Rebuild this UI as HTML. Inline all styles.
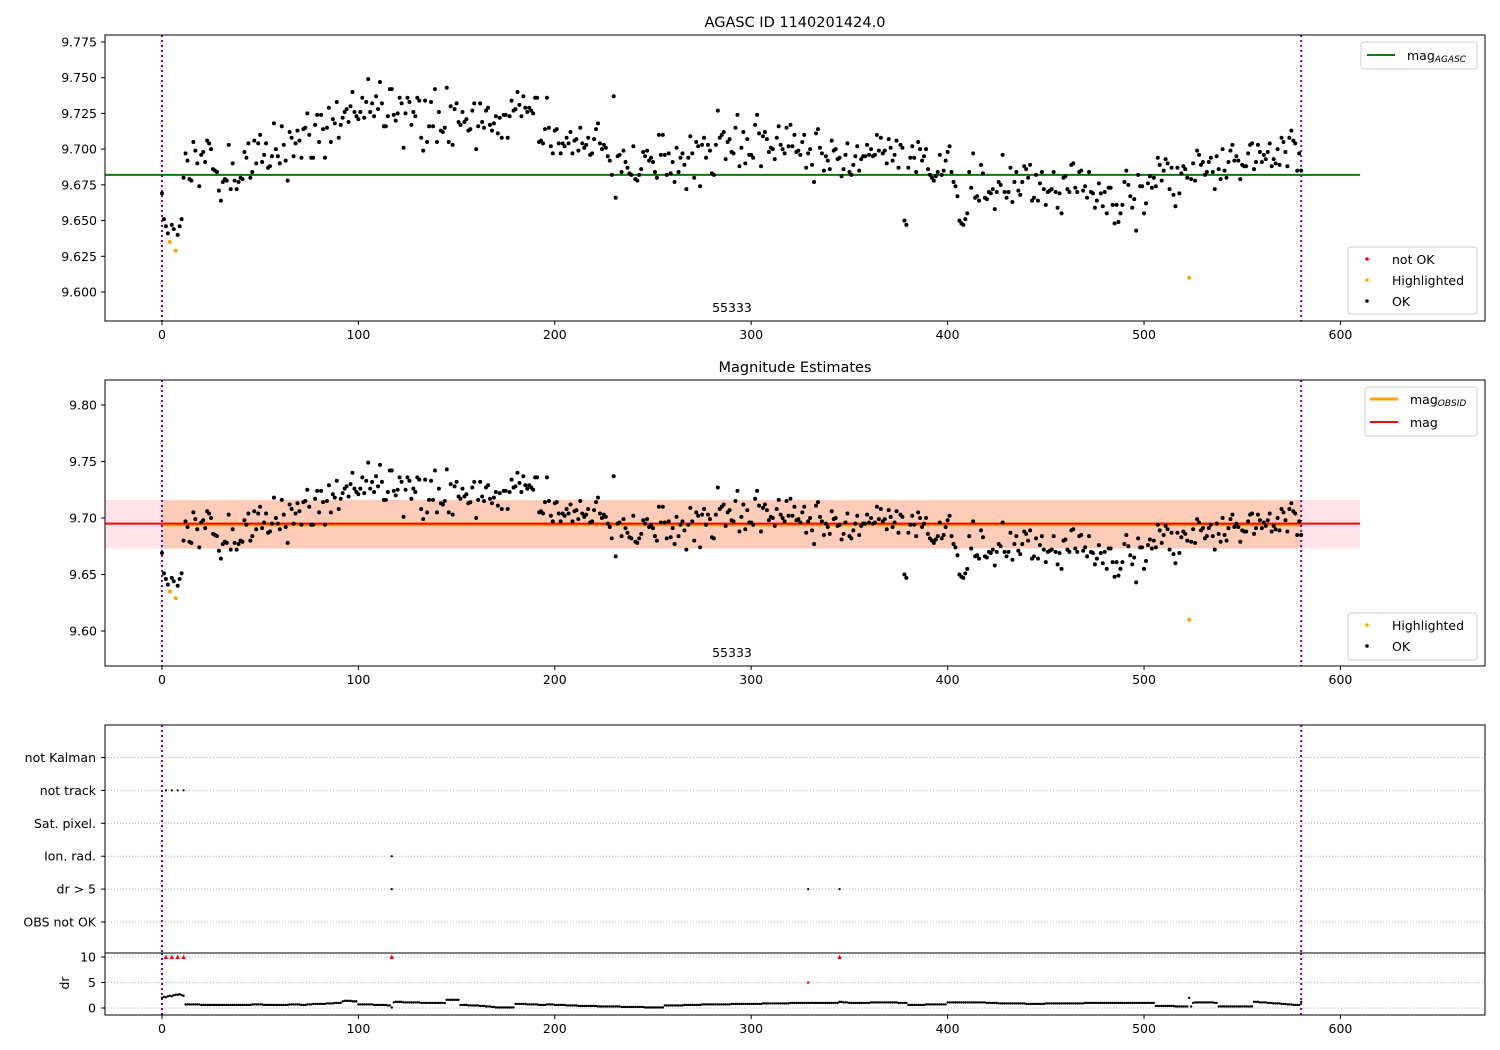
<!DOCTYPE html>
<html><head><meta charset="utf-8">
<style>
body{margin:0;background:#fff;font-family:"DejaVu Sans","Liberation Sans",sans-serif;}
svg{display:block}
text{font-family:"DejaVu Sans","Liberation Sans",sans-serif;}
</style></head>
<body>
<svg id="chart" width="1500" height="1050" xmlns="http://www.w3.org/2000/svg">
<rect width="1500" height="1050" fill="#fff"/>
</svg>
<script>
// magnitude offsets: mag = 9.6 + v/1000, index = x
const magVals = [
69,51,46,41,35,47,44,29,40,46,51,80,97,92,79,78,105,99,90,74,
96,98,91,106,104,100,86,85,84,71,64,77,79,78,103,72,90,78,72,77,
80,79,98,94,104,80,84,106,90,104,110,91,96,104,87,88,95,118,100,95,
90,116,103,92,78,112,108,95,104,113,106,94,114,115,125,110,94,94,117,124,
105,124,114,94,115,129,105,121,118,133,108,117,122,126,128,119,130,140,126,123,
121,126,136,122,133,149,126,132,123,137,128,147,132,116,116,123,142,142,124,120,
125,136,132,101,125,136,133,117,126,123,136,134,108,99,134,105,116,133,116,142,
105,126,113,112,115,143,105,130,103,128,132,119,117,126,119,121,113,114,127,132,
100,116,132,119,115,127,129,117,113,118,123,111,122,108,124,124,108,123,134,127,
128,140,131,123,137,129,126,129,127,125,136,136,105,106,104,114,136,115,102,97,
113,114,104,97,104,102,108,104,112,97,106,107,99,115,104,101,103,108,96,97,
107,114,118,104,100,103,101,95,92,82,137,66,95,96,84,99,91,87,83,82,
102,79,78,82,86,98,95,99,92,94,91,84,80,110,96,110,96,82,97,83,
91,77,101,84,94,97,89,72,94,109,97,80,105,102,74,103,108,94,103,99,
83,82,103,127,108,110,112,93,105,107,98,97,115,124,88,101,112,90,107,96,
96,94,117,124,111,88,109,112,107,98,101,100,93,108,116,103,100,97,115,102,
117,102,110,98,99,96,105,110,87,97,100,89,77,111,114,101,97,85,95,92,
86,106,99,100,93,94,81,86,96,104,84,82,89,95,102,85,93,95,95,103,
96,100,95,96,110,99,108,97,99,90,107,101,92,96,106,87,103,101,50,47,
87,94,102,94,84,105,100,92,95,100,86,82,80,78,81,84,96,82,85,92,
98,102,84,77,74,67,50,48,47,51,55,84,73,97,66,67,64,89,83,66,
65,70,69,72,58,70,77,75,96,70,66,70,87,63,77,84,71,68,77,88,
86,80,89,64,66,82,64,76,84,72,61,70,71,72,84,70,59,69,55,80,
81,72,70,89,90,73,70,84,85,71,74,66,84,70,69,59,64,76,69,60,
70,55,73,73,61,48,61,49,55,61,77,85,75,67,59,65,43,82,74,74,
55,62,76,81,73,80,74,94,89,78,85,93,90,72,87,68,60,87,69,83,
88,86,80,10,79,90,78,99,96,89,91,82,84,91,94,84,72,95,86,79,
100,85,80,91,99,103,92,95,92,79,89,88,88,97,103,104,86,91,103,98,
91,96,93,98,104,88,93,90,100,89,108,105,98,88,108,113,106,104,85,97,85];
const highlightIdx = [4,7,523];
// dr in tenths
const drVals = [
20,22,21,23,24,23,25,26,26,27,25,24,7,7,7,7,7,7,7,7,
6,6,6,6,6,6,6,6,6,6,6,6,6,6,6,6,6,6,6,6,
6,6,6,6,6,6,7,7,7,7,7,7,6,6,6,6,6,6,6,6,
6,6,6,6,6,7,7,7,7,7,7,6,6,6,7,7,7,8,8,8,
8,8,8,8,9,9,9,9,10,10,10,10,13,14,14,14,14,13,13,13,
7,7,7,7,7,7,7,7,6,6,6,6,6,6,6,5,5,1,11,12,
12,12,12,11,11,11,11,11,11,11,11,11,10,10,10,10,10,10,10,10,
10,10,10,10,10,16,16,16,16,16,16,16,6,6,6,6,5,5,5,5,
5,5,4,4,4,3,3,3,2,2,1,1,1,1,1,1,1,1,1,1,
8,8,8,8,8,8,7,7,7,7,7,7,6,6,6,6,7,7,7,7,
6,6,6,6,6,6,5,5,5,5,5,5,4,4,4,4,4,4,4,4,
4,4,3,3,3,3,3,3,3,3,3,3,3,3,2,2,2,2,2,2,
2,2,2,2,2,2,1,1,1,1,1,1,1,1,1,1,5,5,5,5,
5,5,5,5,5,5,6,6,6,6,6,6,6,6,6,7,7,7,7,7,
7,7,7,7,7,7,7,7,7,7,8,8,8,8,8,8,8,8,8,8,
8,8,8,8,8,8,9,9,9,9,9,9,9,9,9,9,9,9,9,9,
10,10,10,10,10,10,10,10,10,10,10,10,10,10,10,10,10,10,10,10,
10,10,10,10,10,12,12,11,11,11,10,10,10,10,10,10,10,10,10,10,
10,11,11,11,11,11,11,11,11,11,11,11,11,11,11,10,10,10,10,10,
6,6,6,6,6,6,6,6,6,7,7,7,7,7,7,7,7,7,7,7,
11,11,11,11,11,11,11,11,11,11,11,11,11,11,11,11,11,11,11,11,
10,10,10,10,10,10,9,9,9,9,9,9,9,9,9,9,9,9,9,9,
8,8,8,8,8,8,8,8,8,8,9,9,9,9,9,9,9,9,9,9,
9,9,9,9,9,9,9,9,9,9,10,10,10,10,10,10,10,10,10,10,
10,10,10,10,10,10,10,10,10,10,10,10,10,10,10,10,10,10,10,10,
10,10,10,10,10,10,4,4,4,4,4,4,4,4,4,4,3,3,3,3,
3,3,3,20,3,10,11,11,11,11,11,11,11,11,11,11,10,10,3,3,
3,3,3,3,3,3,3,3,3,3,3,3,3,3,3,3,12,12,12,11,
11,11,11,10,10,10,9,9,9,9,8,8,8,7,7,7,6,6,6,6,12];
const drHighIdx = [2,5,8,11,117,345];
const drMidIdx = [329];
const drMidVal = [5];
const notTrackIdx = [2,5,8,11];
const ionRadIdx = [117];
const drGt5Idx = [117,329,345];
const flagCats = ["OBS not OK","dr > 5","Ion. rad.","Sat. pixel.","not track","not Kalman"];
const xTicks = [0,100,200,300,400,500,600];
const y1Ticks = [9.600,9.625,9.650,9.675,9.700,9.725,9.750,9.775];
const y2Ticks = [9.60,9.65,9.70,9.75,9.80];
const drTicks = [0,5,10];
const magAgasc = 9.682, magObsid = 9.694, magMean = 9.695, bandLo = 9.673, bandHi = 9.716;
const obsStart = 0, obsEnd = 580, lineEnd = 610, lineStart = -29;

const NS="http://www.w3.org/2000/svg", svg=document.getElementById('chart');
function mk(tag,attrs,parent){const e=document.createElementNS(NS,tag);for(const k in attrs)e.setAttribute(k,attrs[k]);(parent||svg).appendChild(e);return e;}
const X0=105,X1=1485,XMIN=-29.0,XMAX=673.6;
const xs=v=>X0+(v-XMIN)/(XMAX-XMIN)*(X1-X0);
function lin(d0,d1,p0,p1){return v=>p0+(v-d0)/(d1-d0)*(p1-p0);}
const y1=lin(9.600,9.775,292,42), y2=lin(9.60,9.80,631,405);
const yf=lin(0,5,922,757.5), yd=lin(0,10,1008,957);

function txt(x,y,s,size,anchor,parent){const t=mk('text',{x:x,y:y,'font-size':size||12,'text-anchor':anchor||'middle',fill:'#000'},parent);t.textContent=s;return t;}
function xAxis(yb,g){xTicks.forEach(t=>{mk('line',{x1:xs(t),x2:xs(t),y1:yb,y2:yb+4,stroke:'#000'},g);const l=txt(xs(t),yb+18,String(t),12.5,'middle',g);});}
function vlines(top,bot,g){[obsStart,obsEnd].forEach(v=>{const l=mk('line',{x1:xs(v),x2:xs(v),y1:top,y2:bot,stroke:'purple','stroke-width':2,'stroke-dasharray':'2,3'},g);});}
function dots(g,yfn,color,r){magVals.forEach((v,i)=>{const c=mk('circle',{cx:xs(i),cy:yfn(9.6+v/1000),r:r,fill:highlightIdx.includes(i)?'orange':color},g);});}
function legendBox(x,y,w,h,g){mk('rect',{x:x,y:y,width:w,height:h,rx:3,fill:'#fff','fill-opacity':0.8,stroke:'#ccc'},g);}

// ---------- panel 1
const g1=mk('g',{});
let t1=txt(795,27,'AGASC ID 1140201424.0',14.5,'middle',g1);
const l1=mk('line',{x1:xs(lineStart),x2:xs(lineEnd),y1:y1(magAgasc),y2:y1(magAgasc),stroke:'green','stroke-width':2},g1);
vlines(35,321,g1);dots(g1,y1,'#000',2);
mk('rect',{x:105,y:35,width:1380,height:286,fill:'none',stroke:'#000'},g1);
y1Ticks.forEach(t=>{mk('line',{x1:101,x2:105,y1:y1(t),y2:y1(t),stroke:'#000'},g1);const l=txt(97,y1(t)+4.5,t.toFixed(3),12.5,'end',g1);});
xAxis(321,g1);
txt(732,312,'55333',12.5,'middle',g1);
const lg1=mk('g',{});
legendBox(1361,42,116,27,lg1);mk('line',{x1:1367,x2:1395,y1:55,y2:55,stroke:'green','stroke-width':2},lg1);
let tt=txt(1407,60,'mag',12.5,'start',lg1);const sb=mk('tspan',{'font-size':9,'font-style':'italic',dy:2},tt);sb.textContent='AGASC';
const lg2=mk('g',{});
legendBox(1348,247,129,67,lg2);
[['not OK','red',259],['Highlighted','orange',280],['OK','#000',301]].forEach(e=>{mk('circle',{cx:1367,cy:e[2],r:1.8,fill:e[1]},lg2);txt(1392,e[2]+5,e[0],12.5,'start',lg2);});

// ---------- panel 2
const g2=mk('g',{});
let t2=txt(795,372,'Magnitude Estimates',14.5,'middle',g2);
const b1=mk('rect',{x:xs(lineStart),y:y2(bandHi),width:xs(lineEnd)-xs(lineStart),height:y2(bandLo)-y2(bandHi),fill:'#ffc0cb','fill-opacity':0.45},g2);
const b2=mk('rect',{x:xs(obsStart),y:y2(bandHi),width:xs(obsEnd)-xs(obsStart),height:y2(bandLo)-y2(bandHi),fill:'#ffa060','fill-opacity':0.35},g2);
const ol=mk('line',{x1:xs(obsStart),x2:xs(obsEnd),y1:y2(magObsid),y2:y2(magObsid),stroke:'orange','stroke-width':3},g2);
const rl=mk('line',{x1:xs(lineStart),x2:xs(lineEnd),y1:y2(magMean),y2:y2(magMean),stroke:'red','stroke-width':2},g2);
vlines(380,666,g2);dots(g2,y2,'#000',2);
mk('rect',{x:105,y:380,width:1380,height:286,fill:'none',stroke:'#000'},g2);
y2Ticks.forEach(t=>{mk('line',{x1:101,x2:105,y1:y2(t),y2:y2(t),stroke:'#000'},g2);const l=txt(97,y2(t)+4.5,t.toFixed(2),12.5,'end',g2);});
xAxis(666,g2);
txt(732,657,'55333',12.5,'middle',g2);
const lg3=mk('g',{});
legendBox(1365,387,112,49,lg3);
mk('line',{x1:1370,x2:1398,y1:399,y2:399,stroke:'orange','stroke-width':3},lg3);
let t3=txt(1410,404,'mag',12.5,'start',lg3);const sb2=mk('tspan',{'font-size':9,'font-style':'italic',dy:2},t3);sb2.textContent='OBSID';
mk('line',{x1:1370,x2:1398,y1:422,y2:422,stroke:'red','stroke-width':2},lg3);txt(1410,427,'mag',12.5,'start',lg3);
const lg4=mk('g',{});
legendBox(1348,613,129,47,lg4);
[['Highlighted','orange',625],['OK','#000',646]].forEach(e=>{mk('circle',{cx:1367,cy:e[2],r:1.8,fill:e[1]},lg4);txt(1392,e[2]+5,e[0],12.5,'start',lg4);});

// ---------- panel 3 flags
const g3=mk('g',{});
flagCats.forEach((c,i)=>{mk('line',{x1:105,x2:1485,y1:yf(i),y2:yf(i),stroke:'#b0b0b0','stroke-dasharray':'1,2'},g3);mk('line',{x1:101,x2:105,y1:yf(i),y2:yf(i),stroke:'#000'},g3);const l=txt(96,yf(i)+4.5,c,12.5,'end',g3);});
function flagDots(idx,cat){idx.forEach(i=>{const c=mk('circle',{cx:xs(i),cy:yf(cat),r:1.1,fill:'#000'},g3);});}
flagDots(notTrackIdx,4);flagDots(ionRadIdx,2);flagDots(drGt5Idx,1);
vlines(725,953,g3);
mk('rect',{x:105,y:725,width:1380,height:228,fill:'none',stroke:'#000'},g3);
// dr subpanel
const g4=mk('g',{});
drTicks.forEach(t=>{mk('line',{x1:105,x2:1485,y1:yd(t),y2:yd(t),stroke:'#b0b0b0','stroke-dasharray':'1,2'},g4);mk('line',{x1:101,x2:105,y1:yd(t),y2:yd(t),stroke:'#000'},g4);const l=txt(96,yd(t)+4.5,String(t),12.5,'end',g4);});
vlines(953,1015,g4);
drVals.forEach((v,i)=>{const c=mk('circle',{cx:xs(i),cy:yd(v/10),r:1.2,fill:'#000'},g4);});
drMidIdx.forEach((i,k)=>{const c=mk('circle',{cx:xs(i),cy:yd(drMidVal[k]),r:1.3,fill:'red'},g4);});
drHighIdx.forEach(i=>{const x=xs(i),y=yd(10);const p=mk('polygon',{points:`${x-2.2},${y+2} ${x+2.2},${y+2} ${x},${y-2.5}`,fill:'red'},g4);});
mk('rect',{x:105,y:953,width:1380,height:62,fill:'none',stroke:'#000'},g4);
xAxis(1015,g4);
const yl=txt(0,0,'dr',12.5,'middle',g4);yl.setAttribute('transform','translate(69,983) rotate(-90)');
</script>
</body></html>
